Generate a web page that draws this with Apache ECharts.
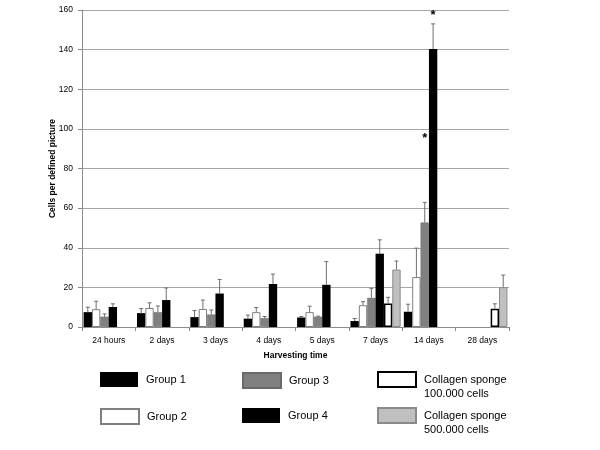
<!DOCTYPE html>
<html>
<head>
<meta charset="utf-8">
<script src="https://cdn.jsdelivr.net/npm/echarts@6/dist/echarts.min.js"></script>
<style>
  html, body { margin: 0; padding: 0; background: #fff; }
  #chart { width: 600px; height: 450px; }
</style>
</head>
<body>
<div id="chart"></div>
<script>
// data
var categories = ['24 hours', '2 days', '3 days', '4 days', '5 days', '7 days', '14 days', '28 days'];
var seriesNames = ['Group 1', 'Group 2', 'Group 3', 'Group 4',
  'Collagen sponge\n100.000 cells', 'Collagen sponge\n500.000 cells'];

var group1 = [7.5, 7, 5, 4.2, 4.8, 3, 7.7, null];
var group1Sd = [2.5, 2.3, 3.3, 1.8, 0.5, 1.3, 3.8, null];
var group2 = [9, 9.6, 9.1, 7.5, 7.5, 11, 25.2, null];
var group2Sd = [4, 2.6, 4.5, 2.3, 3, 1.8, 14.6, null];
var group3 = [5.2, 7.5, 6.3, 4.5, 5.2, 14.7, 52.7, null];
var group3Sd = [1.4, 3.1, 2.3, 0.8, 0.3, 4.8, 10.2, null];
var group4 = [10.1, 13.6, 16.9, 21.7, 21.3, 37, 140.3, null];
var group4Sd = [1.6, 6.1, 7.1, 5, 11.7, 7, 12.7, null];
var collagen100 = [null, null, null, null, null, 11.8, null, 9.2];
var collagen100Sd = [null, null, null, null, null, 3.2, null, 2.5];
var collagen500 = [null, null, null, null, null, 29, null, 20.1];
var collagen500Sd = [null, null, null, null, null, 4.3, null, 6.1];

// significance marks: category index, series index, height
var starCats = [6, 6];
var starSeries = [2, 3];
var starValues = [95, 157.5];

var yTicks = [0, 20, 40, 60, 80, 100, 120, 140, 160];

var values = [group1, group2, group3, group4, collagen100, collagen500];
var sds = [group1Sd, group2Sd, group3Sd, group4Sd, collagen100Sd, collagen500Sd];

// bar look
var fills = ['#000000', '#ffffff', '#808080', '#000000', '#ffffff', '#c0c0c0'];
var borders = ['#000000', '#7f7f7f', '#6a6a6a', '#000000', '#000000', '#8a8a8a'];
var borderWidths = [0, 1, 0.5, 0, 1.5, 1];
var categoryGap = 0.06;
var font = 'Liberation Sans, Arial, sans-serif';

var myChart = echarts.init(document.getElementById('chart'));

var series = [];
for (var i = 0; i < values.length; i++) {
  series.push({
    name: seriesNames[i],
    type: 'bar',
    data: values[i],
    barGap: '0%',
    barCategoryGap: (categoryGap * 100) + '%',
    itemStyle: { color: fills[i], borderColor: borders[i], borderWidth: borderWidths[i] },
    emphasis: { disabled: true },
    z: 2
  });
}

// error bars (upward only)
var errData = [];
for (var s = 0; s < values.length; s++) {
  for (var j = 0; j < categories.length; j++) {
    if (values[s][j] == null) continue;
    errData.push([j, values[s][j], values[s][j] + sds[s][j], s]);
  }
}

function slotX(api, catIdx, s, y) {
  var band = api.size([1, 0])[0];
  var groupW = band * (1 - categoryGap);
  var bw = groupW / values.length;
  var c = api.coord([catIdx, y]);
  return [c[0] - groupW / 2 + bw * (s + 0.5), c[1]];
}

series.push({
  type: 'custom',
  name: 'err',
  data: errData,
  z: 3,
  silent: true,
  renderItem: function (params, api) {
    var cat = api.value(0);
    var s = api.value(3);
    var p0 = slotX(api, cat, s, api.value(1));
    var p1 = slotX(api, cat, s, api.value(2));
    var st = { stroke: '#6e6e6e', lineWidth: 1 };
    return {
      type: 'group',
      children: [
        { type: 'line', shape: { x1: p0[0], y1: p0[1], x2: p1[0], y2: p1[1] }, style: st },
        { type: 'line', shape: { x1: p1[0] - 2, y1: p1[1], x2: p1[0] + 2, y2: p1[1] }, style: st }
      ]
    };
  }
});

var starData = [];
for (var k = 0; k < starCats.length; k++) {
  starData.push([starCats[k], starValues[k], starSeries[k]]);
}
series.push({
  type: 'custom',
  name: 'stars',
  data: starData,
  z: 4,
  silent: true,
  renderItem: function (params, api) {
    var p = slotX(api, api.value(0), api.value(2), api.value(1));
    return {
      type: 'text',
      x: p[0], y: p[1],
      style: { text: '*', font: 'bold 13px ' + font, fill: '#000', align: 'center', verticalAlign: 'middle' }
    };
  }
});

// one legend per item so they sit in the 3x2 block
var legendPos = [[100, 372], [100, 408], [242, 372], [242, 408], [377, 372], [377, 408]];
var legends = seriesNames.map(function (name, idx) {
  var twoLine = name.indexOf('\n') >= 0;
  return {
    data: [name],
    left: legendPos[idx][0],
    top: twoLine ? legendPos[idx][1] - 13.5 : legendPos[idx][1],
    padding: 0,
    itemWidth: 38,
    itemHeight: 15,
    icon: 'rect',
    selectedMode: false,
    // leading blank line keeps the first text line level with the icon
    formatter: twoLine ? function (n) { return '\n' + n; } : '{name}',
    textStyle: { fontFamily: font, fontSize: 11, color: '#000', lineHeight: 14, padding: [0, 0, 0, 3] }
  };
});

var option = {
  animation: false,
  backgroundColor: '#ffffff',
  grid: { left: 82, right: 91, top: 10, bottom: 123 },
  legend: legends,
  xAxis: {
    type: 'category',
    data: categories,
    name: 'Harvesting time',
    nameLocation: 'middle',
    nameGap: 24,
    nameTextStyle: { fontFamily: font, fontSize: 8.5, fontWeight: 'bold', color: '#000' },
    axisLine: { lineStyle: { color: '#8c8c8c', width: 1 } },
    axisTick: { show: true, length: 4, lineStyle: { color: '#8c8c8c' } },
    axisLabel: { fontFamily: font, fontSize: 8.5, color: '#000', margin: 9 },
    splitLine: { show: false }
  },
  yAxis: {
    type: 'value',
    min: yTicks[0],
    max: yTicks[yTicks.length - 1],
    interval: yTicks[1] - yTicks[0],
    name: 'Cells per defined picture',
    nameLocation: 'middle',
    nameGap: 25,
    nameMoveOverlap: false,
    nameRotate: 90,
    nameTextStyle: { fontFamily: font, fontSize: 8.5, fontWeight: 'bold', color: '#000' },
    axisLine: { show: true, lineStyle: { color: '#8c8c8c', width: 1 } },
    axisTick: { show: true, length: 4, lineStyle: { color: '#8c8c8c' } },
    axisLabel: { fontFamily: font, fontSize: 8.5, color: '#000', margin: 9 },
    splitLine: { show: true, lineStyle: { color: '#a6a6a6', width: 1 } }
  },
  series: series
};

myChart.setOption(option);
</script>
</body>
</html>
